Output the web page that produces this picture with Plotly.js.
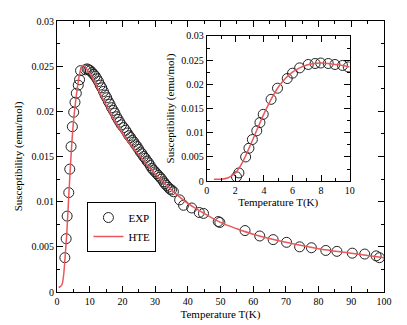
<!DOCTYPE html>
<html>
<head>
<meta charset="utf-8">
<script src="https://cdn.plot.ly/plotly-3.0.1.min.js"></script>
<style>
  html, body { margin: 0; padding: 0; background: #fff; }
  #chart { width: 407px; height: 325px; }
</style>
</head>
<body>
<div id="chart"></div>
<script>
// main panel, measured points
const expT = [2.4, 2.8, 3.1, 3.6, 3.9, 4.3, 4.7, 5.1, 5.5, 5.9, 6.5, 6.9, 7.2,
    8.7, 9.2, 9.7, 10.2, 10.7, 11.2, 11.7, 12.2, 12.7, 13.2, 13.7, 14.2, 14.7,
    15.2, 15.7, 16.2, 16.7, 17.2, 17.7, 18.2, 18.7, 19.2, 19.7, 20.4, 21, 21.5,
    22, 22.5, 23, 23.5, 24, 24.5, 25, 25.5, 26, 26.5, 27, 27.5, 28, 28.5, 29,
    29.5, 30, 30.5, 31, 31.5, 32, 32.6, 33, 33.5, 34, 34.5, 35, 35.6, 37.5,
    38.7, 41.2, 43.5, 44.8, 49.3, 49.8, 57.5, 62, 66.1, 70.2, 74.2, 77.8, 82.2,
    85.6, 90.3, 94.1, 97.6, 98.6];
const expChi = [0.0038, 0.0059, 0.0084, 0.0110, 0.0136, 0.0161, 0.0183, 0.0199,
    0.0210, 0.0220, 0.0229, 0.0235, 0.0245,
    0.0246, 0.0247, 0.0246, 0.0245, 0.0243, 0.0241, 0.0239, 0.0236, 0.0233,
    0.0229, 0.0226, 0.0222, 0.0218, 0.0215, 0.0211, 0.0208, 0.0204, 0.0201,
    0.0198, 0.0194, 0.0191, 0.0188, 0.0185, 0.0182, 0.0179, 0.0176, 0.0173,
    0.0171, 0.0168, 0.0166, 0.0163, 0.0161, 0.0158, 0.0155, 0.0153, 0.0150,
    0.0148, 0.0145, 0.0143, 0.0140, 0.0137, 0.0135, 0.0133, 0.0131, 0.0129,
    0.0127, 0.0125, 0.0122, 0.0120, 0.0118, 0.0116, 0.0114, 0.0113, 0.0111,
    0.0102, 0.0096, 0.0093, 0.0088, 0.0087, 0.0078, 0.0077, 0.0068, 0.0062,
    0.0058, 0.0055, 0.0050, 0.0049, 0.0046, 0.0045, 0.0043, 0.0042, 0.0040,
    0.0038];

// main panel, HTE curve
const hteT = [0.5, 1.0, 1.5, 2.0, 2.5, 3.0, 3.5, 4.0, 4.5, 5.0, 5.5, 6.0, 6.5,
    7.0, 7.5, 8.0, 8.5, 9.0, 10, 11, 12, 13, 14, 15, 16, 18, 20, 22, 25, 28,
    30, 35, 40, 45, 50, 55, 60, 70, 80, 90, 100];
const hteChi = [0.0005, 0.0006, 0.0008, 0.0018, 0.0040, 0.0065, 0.0100, 0.0133,
    0.0163, 0.0187, 0.0205, 0.0220, 0.0233, 0.0243, 0.0249, 0.0251, 0.0250,
    0.0247, 0.0242, 0.0236, 0.0229, 0.0221, 0.0214, 0.0207, 0.0200, 0.0187,
    0.0176, 0.0165, 0.0152, 0.0139, 0.0131, 0.0113, 0.0098, 0.0087, 0.0077,
    0.0070, 0.0064, 0.0055, 0.0048, 0.0043, 0.0038];

// inset, low temperature
const insT = [2.08, 2.25, 2.72, 2.95, 3.19, 3.5, 3.72, 3.95, 4.5, 4.95, 5.63,
    6.0, 6.5, 7.1, 7.58, 7.97, 8.5, 8.97, 9.5, 9.9];
const insChi = [0.0009, 0.0017, 0.0050, 0.0068, 0.0086, 0.0104, 0.0121, 0.0138,
    0.0169, 0.0192, 0.0212, 0.0223, 0.0234, 0.0241, 0.0243, 0.0244, 0.0243,
    0.0241, 0.0239, 0.0236];
const insFitT = [0.5, 1.0, 1.5, 2.0, 2.5, 3.0, 3.5, 4.0, 4.5, 5.0, 5.5, 6.0,
    6.5, 7.0, 7.5, 8.0, 8.5, 9.0, 9.5, 10];
const insFitChi = [0.0004, 0.0004, 0.0007, 0.0017, 0.0039, 0.0071, 0.0105,
    0.0139, 0.0169, 0.0194, 0.0212, 0.0225, 0.0234, 0.0240, 0.0243, 0.0244,
    0.0243, 0.0241, 0.0239, 0.0236];

const serif = 'Liberation Serif';
const redLine = '#e8585c';

function frameAxis(extra) {
    return Object.assign({
        showgrid: false,
        zeroline: false,
        showline: true,
        linecolor: '#000',
        linewidth: 1,
        mirror: 'allticks',
        ticks: 'inside',
        ticklen: 6,
        tickcolor: '#000',
        tickfont: {family: serif, size: 10, color: '#000'},
    }, extra);
}

const traces = [
    {x: expT, y: expChi, name: 'EXP', mode: 'markers', type: 'scatter',
        marker: {symbol: 'circle-open', size: 10, color: '#222', line: {width: 1}},
        xaxis: 'x', yaxis: 'y'},
    {x: hteT, y: hteChi, name: 'HTE', mode: 'lines', type: 'scatter',
        line: {color: redLine, width: 1.5, shape: 'spline'},
        xaxis: 'x', yaxis: 'y'},
    {x: insT, y: insChi, mode: 'markers', type: 'scatter', showlegend: false,
        marker: {symbol: 'circle-open', size: 10, color: '#222', line: {width: 1}},
        xaxis: 'x2', yaxis: 'y2'},
    {x: insFitT, y: insFitChi, mode: 'lines', type: 'scatter', showlegend: false,
        line: {color: redLine, width: 1.5, shape: 'spline'},
        xaxis: 'x2', yaxis: 'y2'},
];

const layout = {
    width: 407,
    height: 325,
    margin: {l: 56.5, r: 22.5, t: 20.7, b: 33},
    paper_bgcolor: '#fff',
    plot_bgcolor: '#fff',
    font: {family: serif, color: '#000'},
    showlegend: true,
    legend: {
        x: 0.093, y: 0.332, xanchor: 'left', yanchor: 'top',
        bordercolor: '#000', borderwidth: 1, bgcolor: '#fff',
        font: {family: serif, size: 11},
        itemwidth: 30, tracegroupgap: 0,
    },
    xaxis: frameAxis({
        range: [0, 100], dtick: 10, tick0: 0,
        minor: {ticks: 'inside', ticklen: 3, dtick: 5, tickcolor: '#000'},
        title: {text: 'Temperature T(K)', font: {family: serif, size: 11}, standoff: 4},
        domain: [0, 1],
    }),
    yaxis: frameAxis({
        range: [0, 0.03], dtick: 0.005, tick0: 0,
        minor: {ticks: 'inside', ticklen: 3, dtick: 0.0025, tickcolor: '#000'},
        title: {text: 'Susceptibility (emu/mol)', font: {family: serif, size: 11}, standoff: 6},
        domain: [0, 1],
    }),
    xaxis2: frameAxis({
        anchor: 'y2',
        range: [0, 10], dtick: 2, tick0: 0,
        minor: {ticks: 'inside', ticklen: 3, dtick: 1, tickcolor: '#000'},
        title: {text: 'Temperature T(K)', font: {family: serif, size: 11}, standoff: 2},
        domain: [0.458, 0.895],
    }),
    yaxis2: frameAxis({
        anchor: 'x2',
        range: [0, 0.03], dtick: 0.005, tick0: 0,
        minor: {ticks: 'inside', ticklen: 3, dtick: 0.0025, tickcolor: '#000'},
        title: {text: 'Susceptibility (emu/mol)', font: {family: serif, size: 11}, standoff: 4},
        domain: [0.409, 0.945],
    }),
};

Plotly.newPlot('chart', traces, layout, {displayModeBar: false, responsive: false});
</script>
</body>
</html>
